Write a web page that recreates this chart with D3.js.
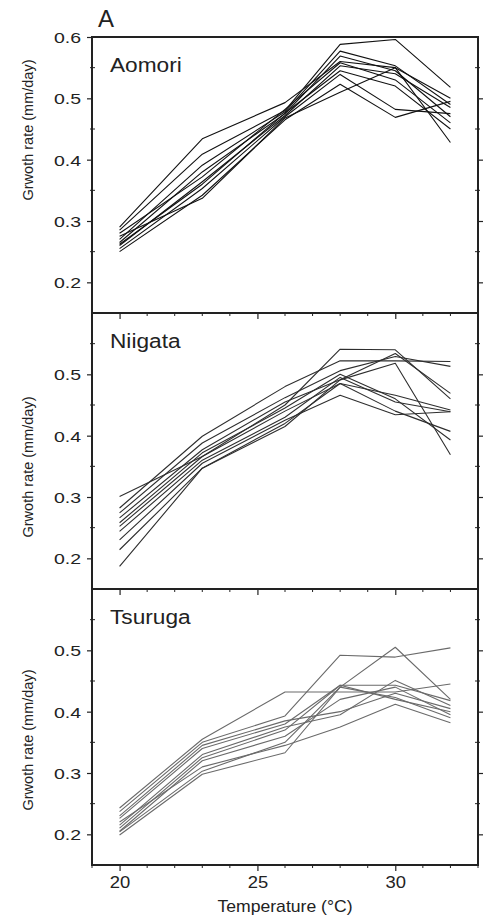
<!DOCTYPE html>
<html>
<head>
<meta charset="utf-8">
<script src="https://cdn.jsdelivr.net/npm/d3@7/dist/d3.min.js"></script>
<style>
  html, body { margin: 0; padding: 0; background: #fff; }
  svg { display: block; }
  text { font-family: "Liberation Sans", Arial, Helvetica, sans-serif; fill: #222; }
</style>
</head>
<body>
<svg id="chart" width="487" height="919"></svg>
<script>
// ---- data ----
const temperatures = [20, 23, 26, 28, 30, 32];
const sites = ["Aomori", "Niigata", "Tsuruga"];
const yTickValues = [0.2, 0.3, 0.4, 0.5, 0.6];
const xTickValues = [20, 25, 30];

const aomori = [
  [0.290, 0.434, 0.493, 0.560, 0.550, 0.500],
  [0.285, 0.409, 0.480, 0.588, 0.596, 0.518],
  [0.270, 0.391, 0.478, 0.577, 0.553, 0.490],
  [0.265, 0.380, 0.475, 0.569, 0.545, 0.470],
  [0.260, 0.364, 0.472, 0.553, 0.540, 0.485],
  [0.255, 0.353, 0.470, 0.539, 0.482, 0.475],
  [0.250, 0.342, 0.465, 0.523, 0.469, 0.495],
  [0.275, 0.337, 0.468, 0.510, 0.550, 0.428],
  [0.280, 0.372, 0.482, 0.558, 0.530, 0.460],
  [0.262, 0.360, 0.476, 0.545, 0.520, 0.450]
];
const niigata = [
  [0.301, 0.366, 0.450, 0.541, 0.540, 0.460],
  [0.282, 0.399, 0.480, 0.522, 0.522, 0.521],
  [0.274, 0.388, 0.462, 0.506, 0.529, 0.513],
  [0.266, 0.377, 0.455, 0.491, 0.534, 0.469],
  [0.252, 0.366, 0.440, 0.485, 0.466, 0.442],
  [0.244, 0.360, 0.430, 0.495, 0.455, 0.439],
  [0.230, 0.355, 0.425, 0.466, 0.434, 0.439],
  [0.214, 0.347, 0.420, 0.485, 0.440, 0.407],
  [0.187, 0.347, 0.415, 0.491, 0.518, 0.369],
  [0.258, 0.372, 0.445, 0.500, 0.460, 0.393]
];
const tsuruga = [
  [0.243, 0.355, 0.432, 0.432, 0.432, 0.445],
  [0.237, 0.350, 0.393, 0.492, 0.489, 0.504],
  [0.226, 0.340, 0.380, 0.443, 0.420, 0.400],
  [0.215, 0.330, 0.375, 0.395, 0.451, 0.410],
  [0.210, 0.325, 0.370, 0.443, 0.443, 0.418],
  [0.204, 0.303, 0.350, 0.440, 0.505, 0.420],
  [0.199, 0.298, 0.333, 0.440, 0.423, 0.390],
  [0.220, 0.310, 0.345, 0.375, 0.412, 0.382],
  [0.230, 0.345, 0.385, 0.400, 0.430, 0.405],
  [0.205, 0.320, 0.360, 0.420, 0.440, 0.395]
];
const siteSeries = [aomori, niigata, tsuruga];
const lineColors = ["#111", "#2e2e2e", "#6a6a6a"];

// ---- layout ----
const svg = d3.select("#chart");
const left = 92, right = 478;
const panelTops = [37, 313, 589];
const panelH = 276;
const yLabelCenters = [130, 467, 740];

const x = d3.scaleLinear().domain([19, 33]).range([left, right]);

svg.append("text").attr("x", 98).attr("y", 27)
  .attr("font-size", 24).text("A");

const line = d3.line().x((d, i) => x(temperatures[i])).y(d => d);

siteSeries.forEach((series, p) => {
  const top = panelTops[p];
  const y = d3.scaleLinear().domain([0.15, 0.6]).range([top + panelH, top]);
  const g = svg.append("g");

  // lines
  series.forEach(s => {
    g.append("path")
      .attr("d", d3.line().x((d, i) => x(temperatures[i])).y(d => y(d))(s))
      .attr("fill", "none")
      .attr("stroke", lineColors[p])
      .attr("stroke-width", 1.1)
      .attr("stroke-linejoin", "round");
  });

  // frame
  g.append("rect")
    .attr("x", left).attr("y", top)
    .attr("width", right - left).attr("height", panelH)
    .attr("fill", "none").attr("stroke", "#222").attr("stroke-width", 2);

  // y ticks left
  const yMajor = yTickValues.filter(v => p === 0 || v < 0.59);
  const yMinor = d3.range(0.2, 0.6, 0.05).map(v => +v.toFixed(2)).filter(v => Math.abs((v * 10) % 1) > 0.01 && Math.abs((v*10)%1) < 0.99 );
  const yAxisL = d3.axisLeft(y).tickValues(yMajor).tickSize(5).tickFormat(d3.format(".1f"));
  const ga = g.append("g").attr("transform", `translate(${left},0)`).call(yAxisL);
  ga.select(".domain").remove();
  ga.selectAll(".tick line").attr("stroke", "#222").attr("stroke-width", 1.2);
  ga.selectAll(".tick text")
    .attr("font-size", 15).attr("fill", "#333")
    .attr("font-family", '"Liberation Sans", Arial, sans-serif')
    .each(function() {
      const t = d3.select(this);
      t.attr("x", null).attr("dy", "0.36em")
       .attr("text-anchor", "end")
       .attr("transform", "translate(-11,0) scale(1.3,1)");
    });
  // minor y ticks, left and right
  yMinor.forEach(v => {
    g.append("line").attr("x1", left - 2).attr("x2", left + 3)
      .attr("y1", y(v)).attr("y2", y(v)).attr("stroke", "#222").attr("stroke-width", 1);
    g.append("line").attr("x1", right - 3).attr("x2", right + 2)
      .attr("y1", y(v)).attr("y2", y(v)).attr("stroke", "#222").attr("stroke-width", 1);
  });
  // y ticks right
  const yAxisR = d3.axisRight(y).tickValues(yMajor.filter(v => v < 0.59)).tickSize(5).tickFormat("");
  const gr = g.append("g").attr("transform", `translate(${right},0)`).call(yAxisR);
  gr.select(".domain").remove();
  gr.selectAll(".tick line").attr("stroke", "#222").attr("stroke-width", 1.2);

  // x ticks on bottom
  const bottom = top + panelH;
  const xMinorVals = d3.range(19, 34).filter(v => !xTickValues.includes(v));
  xMinorVals.forEach(v => {
    g.append("line").attr("x1", x(v)).attr("x2", x(v))
      .attr("y1", bottom).attr("y2", bottom + 3)
      .attr("stroke", "#222").attr("stroke-width", 1);
  });
  const xAxis = d3.axisBottom(x).tickValues(xTickValues).tickSize(6)
    .tickFormat(p === 2 ? d3.format("d") : "");
  const gx = g.append("g").attr("transform", `translate(0,${bottom})`).call(xAxis);
  gx.select(".domain").remove();
  gx.selectAll(".tick line").attr("stroke", "#222").attr("stroke-width", 1.2);
  gx.selectAll(".tick text")
    .attr("font-size", 16).attr("fill", "#333")
    .attr("font-family", '"Liberation Sans", Arial, sans-serif')
    .attr("y", null).attr("dy", null)
    .attr("transform", "translate(0,23) scale(1.15,1)");

  // panel label
  g.append("text")
    .attr("transform", `translate(110,${top + 35}) scale(1.08,1)`)
    .attr("font-size", 21).attr("fill", "#222")
    .text(sites[p]);

  // y label
  g.append("text")
    .attr("transform", `translate(33,${yLabelCenters[p]}) rotate(-90)`)
    .attr("text-anchor", "middle")
    .attr("font-size", 14.5).attr("fill", "#333")
    .text("Grwoth rate (mm/day)");
});

svg.append("text")
  .attr("transform", "translate(285,912) scale(1.1,1)")
  .attr("text-anchor", "middle")
  .attr("font-size", 16).attr("fill", "#333")
  .text("Temperature (\u00B0C)");
</script>
</body>
</html>
